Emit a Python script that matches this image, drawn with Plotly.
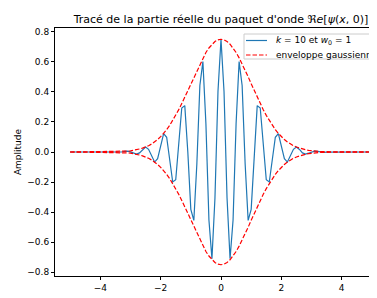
import plotly.graph_objects as go

# sample positions
x = [-5.0, -3.5, -3.4, -3.3, -3.2, -3.1, -3.0, -2.9, -2.8, -2.7, -2.6, -2.5, -2.4, -2.3, -2.2, -2.1,
     -2.0, -1.9, -1.8, -1.7, -1.6, -1.5, -1.4, -1.3, -1.2, -1.1, -1.0, -0.9, -0.8, -0.7, -0.6,
     -0.5, -0.4, -0.3, -0.2, -0.1, 0.0, 0.1, 0.2, 0.3, 0.4, 0.5, 0.6, 0.7, 0.8, 0.9, 1.0,
     1.1, 1.2, 1.3, 1.4, 1.5, 1.6, 1.7, 1.8, 1.9, 2.0, 2.1, 2.2, 2.3, 2.4, 2.5, 2.6, 2.7,
     2.8, 2.9, 3.0, 3.1, 3.2, 3.3, 3.4, 3.5, 5.0]

# real part of the wave packet
re_psi = [0.0, -0.001, -0.002, 0.0, 0.004, 0.006, 0.001, -0.008, -0.014, -0.006, 0.017, 0.033, 0.018, -0.028, -0.067, -0.045,
          0.042, 0.123, 0.098, -0.049, -0.200, -0.185, 0.039, 0.293, 0.309, 0.002, -0.382, -0.456, -0.080, 0.443, 0.602,
          0.188, -0.453, -0.711, -0.306, 0.403, 0.751, 0.403, -0.306, -0.711, -0.453, 0.188, 0.602, 0.443, -0.080, -0.456, -0.382,
          0.002, 0.309, 0.293, 0.039, -0.185, -0.200, -0.049, 0.098, 0.123, 0.042, -0.045, -0.067, -0.028, 0.018, 0.033, 0.017, -0.006,
          -0.014, -0.008, 0.001, 0.006, 0.004, 0.0, -0.002, -0.001, 0.0]

# gaussian envelope (upper)
envelope = [0.0, 0.002, 0.002, 0.003, 0.005, 0.006, 0.008, 0.011, 0.015, 0.020, 0.026, 0.033, 0.042, 0.053, 0.067, 0.083,
            0.102, 0.124, 0.149, 0.177, 0.209, 0.244, 0.282, 0.323, 0.366, 0.410, 0.455, 0.501, 0.545, 0.588, 0.627,
            0.663, 0.693, 0.718, 0.736, 0.747, 0.751, 0.747, 0.736, 0.718, 0.693, 0.663, 0.627, 0.588, 0.545, 0.501, 0.455,
            0.410, 0.366, 0.323, 0.282, 0.244, 0.209, 0.177, 0.149, 0.124, 0.102, 0.083, 0.067, 0.053, 0.042, 0.033, 0.026, 0.020,
            0.015, 0.011, 0.008, 0.006, 0.005, 0.003, 0.002, 0.002, 0.0]
envelope_low = [-v for v in envelope]

x_ticks = [-4, -2, 0, 2, 4]
x_tick_text = ["\u22124", "\u22122", "0", "2", "4"]
y_ticks = [-0.8, -0.6, -0.4, -0.2, 0.0, 0.2, 0.4, 0.6, 0.8]
y_tick_text = ["\u22120.8", "\u22120.6", "\u22120.4", "\u22120.2", "0.0", "0.2", "0.4", "0.6", "0.8"]

label_wave = "<i>k</i> = 10 et <i>w</i><sub>0</sub> = 1"
label_env = "enveloppe gaussienne"

FONT = "DejaVu Sans"
BLUE = "#1f77b4"
DASH = "4.5px,2px"

OFF = 8  # page body margin offset
W, H = 379, 290
L, R, T, B = 47, 0, 20, 22
PW, PH = W - L - R, H - T - B


def px(xw):
    return (xw - OFF - L) / PW


def py(yw):
    return 1 - (yw - OFF - T) / PH


fig = go.Figure()
fig.add_trace(go.Scatter(x=x, y=re_psi, mode="lines",
                         line=dict(color=BLUE, width=1.2), name=label_wave))
fig.add_trace(go.Scatter(x=x, y=envelope, mode="lines",
                         line=dict(color="red", width=1.2, dash=DASH), name=label_env))
fig.add_trace(go.Scatter(x=x, y=envelope_low, mode="lines",
                         line=dict(color="red", width=1.2, dash=DASH), showlegend=False))

# legend drawn manually (matplotlib style)
shapes = [
    dict(type="rect", xref="paper", yref="paper", x0=px(244), x1=px(395), y0=py(59), y1=py(34),
         line=dict(color="#cccccc", width=1), fillcolor="rgba(255,255,255,0.85)", layer="above"),
    dict(type="line", xref="paper", yref="paper", x0=px(246), x1=px(267), y0=py(40.5), y1=py(40.5),
         line=dict(color=BLUE, width=1.2), layer="above"),
    dict(type="line", xref="paper", yref="paper", x0=px(246), x1=px(267), y0=py(55), y1=py(55),
         line=dict(color="red", width=1.2, dash=DASH), layer="above"),
]
annotations = [
    dict(text=label_wave, xref="paper", yref="paper", x=px(274), y=py(40.5), xanchor="left",
         yanchor="middle", showarrow=False, font=dict(family=FONT, size=9, color="black")),
    dict(text=label_env, xref="paper", yref="paper", x=px(274), y=py(55), xanchor="left",
         yanchor="middle", showarrow=False, font=dict(family=FONT, size=9, color="black")),
]

fig.update_layout(
    width=W, height=H,
    margin=dict(l=L, r=R, t=T, b=B, autoexpand=False),
    paper_bgcolor="white", plot_bgcolor="white",
    font=dict(family=FONT, size=9, color="black"),
    showlegend=False,
    title=dict(text="Tracé de la partie réelle du paquet d'onde ℜ<i>e</i>[<i>ψ</i>(<i>x</i>, 0)]",
               x=(221 - OFF) / W, xanchor="center", y=1 - (19 - OFF) / H, yanchor="middle",
               automargin=False, font=dict(family=FONT, size=11, color="black")),
    xaxis=dict(range=[-5.5, 5.5], tickvals=x_ticks, ticktext=x_tick_text, automargin=False,
               showgrid=False, zeroline=False, showline=True, linecolor="black",
               linewidth=1, mirror=True, ticks="outside", ticklen=3, tickcolor="black",
               tickfont=dict(family=FONT, size=9)),
    yaxis=dict(range=[-0.826, 0.826], tickvals=y_ticks, ticktext=y_tick_text, automargin=False,
               showgrid=False, zeroline=False, showline=True, linecolor="black",
               linewidth=1, mirror=True, ticks="outside", ticklen=3, tickcolor="black",
               tickfont=dict(family=FONT, size=9),
               title=dict(text="Amplitude", font=dict(family=FONT, size=9), standoff=4)),
    shapes=shapes,
    annotations=annotations,
)

fig.write_html("out.html")
